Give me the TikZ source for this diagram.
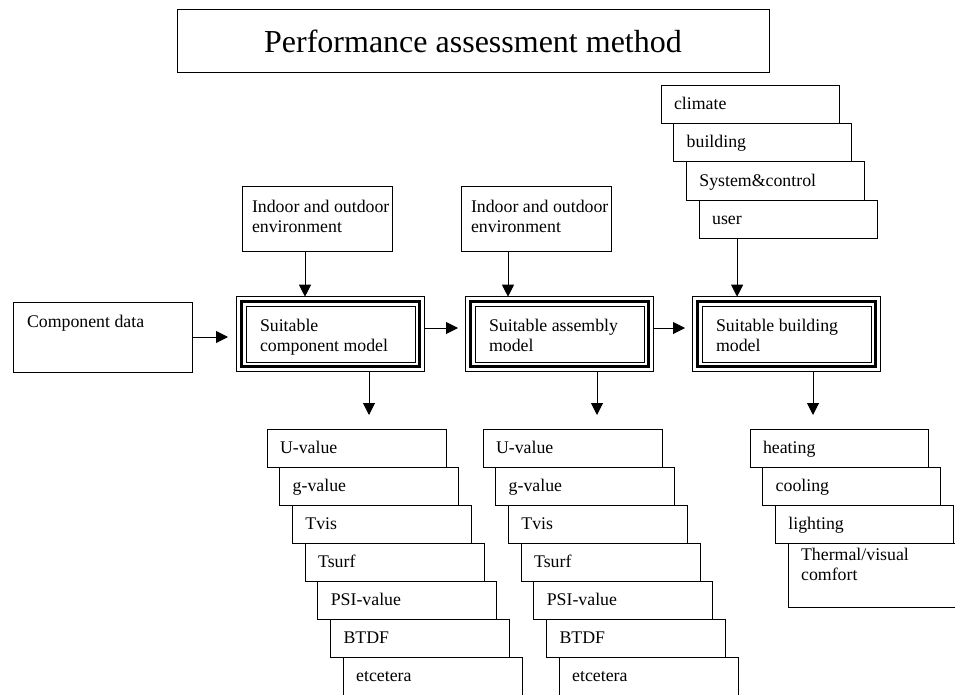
\documentclass[tikz,border=0pt]{standalone}
\usepackage{fontspec}
\setmainfont{Liberation Serif}
\usetikzlibrary{arrows.meta}
\newcommand{\bodyfont}{\fontsize{17.8pt}{20pt}\selectfont}
\newcommand{\titlefont}{\fontsize{32pt}{38pt}\selectfont}
% fixed-width, left-indented text block for the boxes
\newcommand{\boxtext}[3][13pt]{\makebox[#2][l]{\begin{tabular}[t]{@{\hspace{#1}}l@{}}#3\end{tabular}}}

\begin{document}
\begin{tikzpicture}[x=1pt, y=-1pt, every node/.style={font=\bodyfont},
    box/.style={draw, line width=1pt, inner sep=0pt, outer sep=0pt, anchor=north west, fill=white},
    row/.style={box, text height=24pt, text depth=14pt},
    model/.style={box, text height=25.5pt, text depth=30.5pt},
    flow/.style={-{Triangle[length=12pt,width=12pt]}, line width=1pt}]
    \useasboundingbox (0,0) rectangle (955,695);

    % Title
    \node[draw, line width=1pt, minimum width=592pt, minimum height=63pt, inner sep=0pt, font=\titlefont] (title) at (473,41.5) {Performance assessment method};

    % Inputs
    \node[box, text height=25pt, text depth=45pt] (cdata) at (13,302) {\boxtext[14pt]{179pt}{Component data}};
    \node[box, text height=25pt, text depth=39pt] (env1) at (242,187) {\boxtext[10pt]{150pt}{Indoor and outdoor\\environment}};
    \node[box, text height=25pt, text depth=39pt] (env2) at (461,187) {\boxtext[10pt]{150pt}{Indoor and outdoor\\environment}};

    \node[row] (clim) at (661,86) {\boxtext{178pt}{climate}};
    \node[row] (bldg) at ([xshift=12.7pt]clim.south west) {\boxtext{178pt}{building}};
    \node[row] (sysc) at ([xshift=12.7pt]bldg.south west) {\boxtext{178pt}{System\&control}};
    \node[row] (user) at ([xshift=12.7pt]sysc.south west) {\boxtext{178pt}{user}};

    % Models
    \node[model] (cm) at (246,306) {\boxtext[14pt]{169pt}{Suitable\\component model}};
    \node[model] (am) at (475,306) {\boxtext[14pt]{169pt}{Suitable assembly\\model}};
    \node[model] (bm) at (702,306) {\boxtext[14pt]{169pt}{Suitable building\\model}};
    \foreach \m in {cm,am,bm}{
        \draw[line width=3pt] ([shift={(-4.5,-4.5)}]\m.north west) rectangle ([shift={(4.5,4.5)}]\m.south east);
        \draw[line width=1pt] ([shift={(-9.3,-9.3)}]\m.north west) rectangle ([shift={(9.3,9.3)}]\m.south east);
    }

    % Component results
    \node[row] (c1) at (267,429) {\boxtext{179pt}{U-value}};
    \node[row] (c2) at ([xshift=12.7pt]c1.south west) {\boxtext{179pt}{g-value}};
    \node[row] (c3) at ([xshift=12.7pt]c2.south west) {\boxtext{179pt}{Tvis}};
    \node[row] (c4) at ([xshift=12.7pt]c3.south west) {\boxtext{179pt}{Tsurf}};
    \node[row] (c5) at ([xshift=12.7pt]c4.south west) {\boxtext{179pt}{PSI-value}};
    \node[row] (c6) at ([xshift=12.7pt]c5.south west) {\boxtext{179pt}{BTDF}};
    \node[row, text depth=17pt] (c7) at ([xshift=12.7pt]c6.south west) {\boxtext{179pt}{etcetera}};

    % Assembly results
    \node[row] (a1) at (483,429) {\boxtext{179pt}{U-value}};
    \node[row] (a2) at ([xshift=12.7pt]a1.south west) {\boxtext{179pt}{g-value}};
    \node[row] (a3) at ([xshift=12.7pt]a2.south west) {\boxtext{179pt}{Tvis}};
    \node[row] (a4) at ([xshift=12.7pt]a3.south west) {\boxtext{179pt}{Tsurf}};
    \node[row] (a5) at ([xshift=12.7pt]a4.south west) {\boxtext{179pt}{PSI-value}};
    \node[row] (a6) at ([xshift=12.7pt]a5.south west) {\boxtext{179pt}{BTDF}};
    \node[row, text depth=17pt] (a7) at ([xshift=12.7pt]a6.south west) {\boxtext{179pt}{etcetera}};

    % Building results
    \node[row] (heat) at (750,429) {\boxtext{178pt}{heating}};
    \node[row] (cool) at ([xshift=12.7pt]heat.south west) {\boxtext{178pt}{cooling}};
    \node[row] (light) at ([xshift=12.7pt]cool.south west) {\boxtext{178pt}{lighting}};
    \node[box, text height=17pt, text depth=47pt] (comf) at ([xshift=12.7pt]light.south west) {\boxtext{178pt}{Thermal/visual\\comfort}};

    % Arrows
    \draw[flow, shorten >=18pt] (cdata) -- (cdata -| cm.west);
    \draw[flow, shorten <=9.3pt, shorten >=17pt] ([yshift=6pt]cm.east) -- ([yshift=6pt]am.west);
    \draw[flow, shorten <=9.3pt, shorten >=17pt] ([yshift=6pt]am.east) -- ([yshift=6pt]bm.west);
    \draw[flow, shorten >=9.3pt] ([xshift=-12pt]env1.south) -- ([xshift=-12pt]env1.south |- cm.north);
    \draw[flow, shorten >=9.3pt] ([xshift=-28pt]env2.south) -- ([xshift=-28pt]env2.south |- am.north);
    \draw[flow, shorten >=9.3pt] ([xshift=-51pt]user.south) -- ([xshift=-51pt]user.south |- bm.north);
    \draw[flow, shorten <=9.3pt, shorten >=14pt] ([xshift=38.5pt]cm.south) -- ([xshift=38.5pt]cm.south |- c1.north);
    \draw[flow, shorten <=9.3pt, shorten >=14pt] ([xshift=37.5pt]am.south) -- ([xshift=37.5pt]am.south |- a1.north);
    \draw[flow, shorten <=9.3pt, shorten >=14pt] ([xshift=26.5pt]bm.south) -- ([xshift=26.5pt]bm.south |- heat.north);
\end{tikzpicture}
\end{document}
